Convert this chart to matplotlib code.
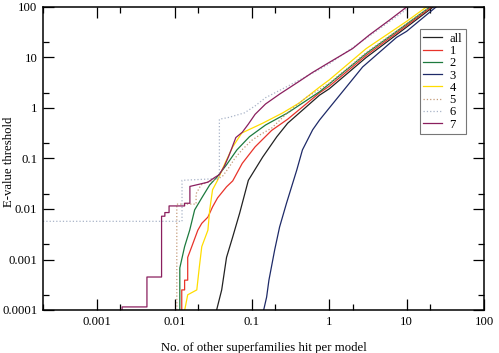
import matplotlib
matplotlib.use('Agg')
import matplotlib.pyplot as plt
from matplotlib.ticker import LogLocator, FixedLocator, FixedFormatter, NullFormatter

# curves: (models hit per model, E-value threshold)
all_x = [0.035, 0.0407, 0.047, 0.0565, 0.0695, 0.09, 0.138, 0.21, 0.29, 0.75, 1, 3, 10, 22, 25]
all_y = [1e-4, 0.00025, 0.0011, 0.0028, 0.0083, 0.037, 0.107, 0.27, 0.5, 1.8, 2.4, 10, 40, 100, 115]

m1_x = [0.0124, 0.0124, 0.0135, 0.0135, 0.0148, 0.0148, 0.0167, 0.02, 0.0225, 0.027, 0.031, 0.036,
        0.047, 0.0565, 0.075, 0.11, 0.18, 0.29, 0.75, 1, 3, 10, 21, 24]
m1_y = [1e-4, 0.00025, 0.00025, 0.00039, 0.00039, 0.0011, 0.0018, 0.0038, 0.0052, 0.0069, 0.011, 0.0166,
        0.0275, 0.036, 0.08, 0.17, 0.36, 0.6, 2.0, 2.7, 11, 43, 100, 115]

m2_x = [0.0117, 0.0117, 0.0135, 0.0157, 0.0182, 0.0225, 0.0285, 0.0355, 0.047, 0.064, 0.093, 0.15,
        0.29, 0.75, 1, 3, 10, 20, 23]
m2_y = [1e-4, 0.00068, 0.0018, 0.0038, 0.0096, 0.0166, 0.03, 0.043, 0.075, 0.148, 0.27, 0.46,
        0.8, 2.1, 3.0, 12, 46, 100, 115]

m3_x = [0.142, 0.155, 0.166, 0.197, 0.228, 0.28, 0.38, 0.45, 0.61, 0.75, 1, 2.7, 7.4, 10, 24, 27]
m3_y = [1e-4, 0.00018, 0.00039, 0.00155, 0.0044, 0.013, 0.059, 0.148, 0.37, 0.58, 1.0, 6.5, 25, 33, 100, 115]

m4_x = [0.01355, 0.0148, 0.0194, 0.0209, 0.0225, 0.027, 0.0285, 0.031, 0.036, 0.045, 0.0565, 0.074,
        0.138, 0.25, 0.41, 0.75, 1, 3, 10, 18, 21]
m4_y = [1e-4, 0.0002, 0.00025, 0.0007, 0.0018, 0.0038, 0.0096, 0.024, 0.037, 0.081, 0.17, 0.32,
        0.5, 0.8, 1.26, 2.6, 3.6, 15, 52, 100, 115]

m5_x = [0.0107, 0.0107, 0.019, 0.019, 0.022, 0.028, 0.035, 0.042, 0.05, 0.06, 0.075, 0.1, 0.13,
        0.18, 0.3, 0.5, 1, 3, 10, 20, 22]
m5_y = [1e-4, 0.0125, 0.0125, 0.02, 0.03, 0.035, 0.038, 0.045, 0.065, 0.1, 0.15, 0.23, 0.3,
        0.4, 0.85, 1.6, 3.1, 12.5, 47, 100, 115]

m6_x = [1e-4, 0.0125, 0.0125, 0.026, 0.038, 0.038, 0.05, 0.08, 0.11, 0.15, 0.25, 0.4, 0.7, 1, 3, 10, 11, 12]
m6_y = [0.0057, 0.0057, 0.037, 0.039, 0.041, 0.6, 0.65, 0.8, 1.1, 1.6, 2.4, 3.5, 5.5, 7.5, 24, 90, 100, 115]

m7_x = [0.0021, 0.0021, 0.0044, 0.0044, 0.0068, 0.0068, 0.0075, 0.0075, 0.0085, 0.0085, 0.0135, 0.0135,
        0.0158, 0.0158, 0.021, 0.027, 0.033, 0.038, 0.044, 0.05, 0.055, 0.062, 0.075, 0.09, 0.11, 0.15,
        0.23, 0.4, 0.6, 1, 2, 3.3, 6, 10, 11]
m7_y = [1e-4, 0.000115, 0.000115, 0.00045, 0.00045, 0.0072, 0.0072, 0.0085, 0.0085, 0.0115, 0.0115, 0.013,
        0.013, 0.028, 0.031, 0.034, 0.042, 0.048, 0.07, 0.11, 0.16, 0.26, 0.33, 0.48, 0.75, 1.2,
        1.9, 3.3, 5.0, 8, 15, 28, 55, 100, 115]

labels = ['all', '1', '2', '3', '4', '5', '6', '7']
xs = [all_x, m1_x, m2_x, m3_x, m4_x, m5_x, m6_x, m7_x]
ys = [all_y, m1_y, m2_y, m3_y, m4_y, m5_y, m6_y, m7_y]
colors = ['#222222', '#e8332a', '#1d7a3e', '#1e2a68', '#ffdd00', '#c49a78', '#a9b4c8', '#8a1f5e']
styles = ['-', '-', '-', '-', '-', ':', ':', '-']

xticks = [0.001, 0.01, 0.1, 1, 10, 100]
xticklabels = ['0.001', '0.01', '0.1', '1', '10', '100']
yticks = [0.0001, 0.001, 0.01, 0.1, 1, 10, 100]
yticklabels = ['0.0001', '0.001', '0.01', '0.1', '1', '10', '100']

plt.rcParams['font.family'] = ['Liberation Serif', 'DejaVu Serif']

fig = plt.figure(figsize=(4.99, 3.53), dpi=100)
ax = fig.add_axes([43/499, 1 - 310/353, (484-43)/499, (310-7)/353])

for x, y, c, s, lab in zip(xs, ys, colors, styles, labels):
    ax.plot(x, y, color=c, linestyle=s, linewidth=0.9, label=lab)

ax.set_xscale('log')
ax.set_yscale('log')
ax.set_xlim(10**-3.7, 100)
ax.set_ylim(0.0001, 100)

ax.xaxis.set_major_locator(FixedLocator(xticks))
ax.xaxis.set_major_formatter(FixedFormatter(xticklabels))
ax.yaxis.set_major_locator(FixedLocator(yticks))
ax.yaxis.set_major_formatter(FixedFormatter(yticklabels))
ax.xaxis.set_minor_locator(LogLocator(base=10, subs=[2.0]))
ax.yaxis.set_minor_locator(LogLocator(base=10, subs=[2.0]))
ax.xaxis.set_minor_formatter(NullFormatter())
ax.yaxis.set_minor_formatter(NullFormatter())
ax.tick_params(which='both', direction='in', top=True, right=True, labelsize=9.2, width=0.9)
ax.tick_params(which='major', length=8, pad=4)
ax.tick_params(which='minor', length=4.5)
for sp in ax.spines.values():
    sp.set_linewidth(1.1)

ax.set_xlabel('No. of other superfamilies hit per model', fontsize=9.2)
ax.xaxis.set_label_coords(0.5, -0.105)
ax.set_ylabel('E-value threshold', fontsize=9.2)
ax.yaxis.set_label_coords(-0.064, 0.49)

leg = ax.legend(loc='upper right', bbox_to_anchor=(0.959, 0.927), fontsize=9,
                frameon=True, fancybox=False, handlelength=1.5, handletextpad=0.6,
                labelspacing=0.02, borderpad=0.3, borderaxespad=0)
leg.get_frame().set_edgecolor('#555555')
leg.get_frame().set_linewidth(0.8)

fig.savefig('out.png', dpi=100)
